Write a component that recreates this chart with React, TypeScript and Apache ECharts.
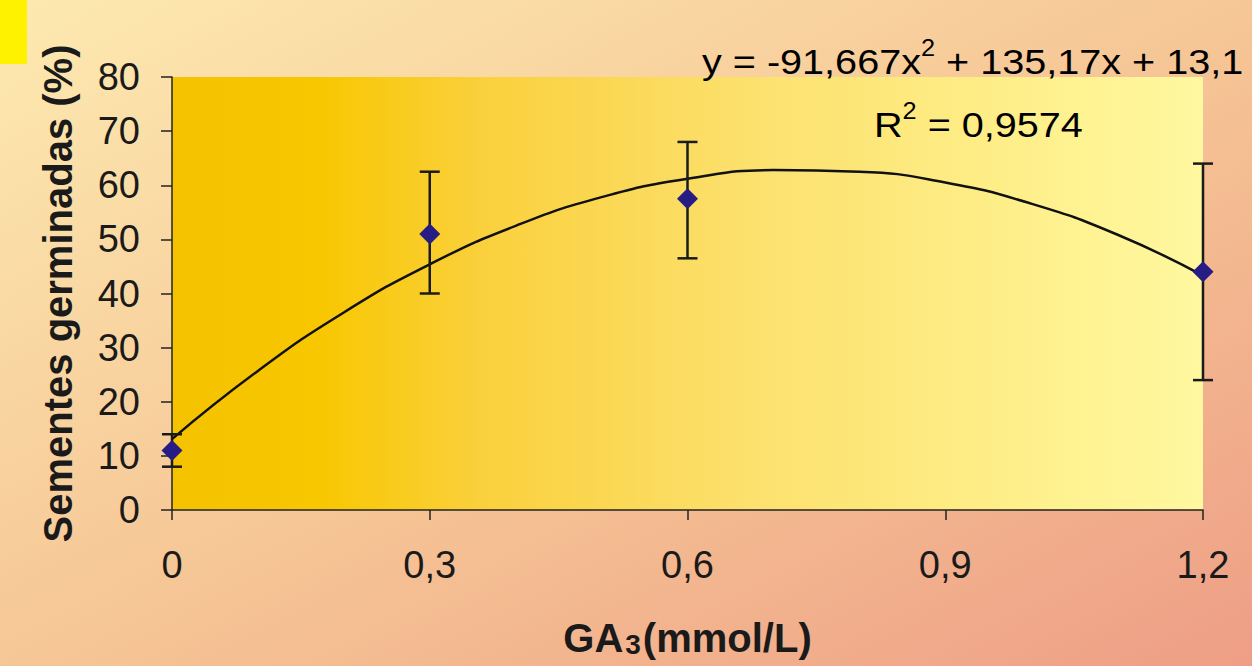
import React, { useEffect, useRef } from "react";
import * as echarts from "echarts";

// ---- data ----
const doses = [0, 0.3, 0.6, 1.2];
const germMean = [11, 51, 57.5, 44];
const germLow = [8, 40, 46.5, 24];
const germHigh = [14, 62.5, 68, 64];

// trendline as drawn in the picture
const curveX = [0, 0.1, 0.2, 0.3, 0.4, 0.5, 0.6, 0.7, 0.8, 0.9, 1.0, 1.1, 1.2];
const curveY = [13.1, 25.7, 36.5, 45.4, 52.5, 57.8, 61.2, 62.8, 62.5, 60.5, 56.6, 50.9, 43.3];

const equationText = "{a|y = -91,667x}{s|2}{a| + 135,17x + 13,1}";
const r2Text = "{a|R}{s|2}{a| = 0,9574}";
const yAxisName = "Sementes germinadas (%)";
const xAxisName = "{b|GA}{sub|3}{b|(mmol/L)}";

const FONT = "'Liberation Sans', Arial, sans-serif";

export default function App() {
  const ref = useRef<HTMLDivElement>(null);

  useEffect(() => {
    if (!ref.current) return;
    const chart = echarts.init(ref.current, null, { renderer: "svg" });

    const points = doses.map((d, i) => [d, germMean[i]]);
    const bars = doses.map((d, i) => [d, germLow[i], germHigh[i]]);
    const curve = curveX.map((x, i) => [x, curveY[i]]);

    const eqRich = {
      a: { fontFamily: FONT, fontSize: 36, color: "#1a1a1a", lineHeight: 44, verticalAlign: "bottom" },
      s: { fontFamily: FONT, fontSize: 23, color: "#1a1a1a", lineHeight: 44, verticalAlign: "top" },
    };

    chart.setOption({
      animation: false,
      backgroundColor: {
        type: "linear",
        x: 0,
        y: 0,
        x2: 1,
        y2: 1,
        colorStops: [
          { offset: 0, color: "#FDEAB0" },
          { offset: 0.5, color: "#F6C796" },
          { offset: 1, color: "#EE9E86" },
        ],
      },
      grid: {
        left: 172,
        top: 77,
        width: 1031,
        height: 433,
        show: true,
        borderWidth: 0,
        outerBoundsMode: "none",
        containLabel: false,
        backgroundColor: {
          type: "linear",
          x: 0,
          y: 0,
          x2: 1,
          y2: 0,
          colorStops: [
            { offset: 0, color: "#F5C200" },
            { offset: 0.14, color: "#F8C700" },
            { offset: 0.3, color: "#FAD03C" },
            { offset: 0.55, color: "#FCE06C" },
            { offset: 0.8, color: "#FEEE88" },
            { offset: 1, color: "#FFF8A0" },
          ],
        },
      },
      xAxis: {
        type: "value",
        min: 0,
        max: 1.2,
        interval: 0.3,
        name: xAxisName,
        nameLocation: "middle",
        nameGap: 110,
        nameTextStyle: {
          fontFamily: FONT,
          fontSize: 40,
          fontWeight: "bold",
          color: "#1a1a1a",
          lineHeight: 38,
          rich: {
            b: { fontFamily: FONT, fontSize: 40, fontWeight: "bold", color: "#1a1a1a", lineHeight: 38, verticalAlign: "bottom" },
            sub: { fontFamily: FONT, fontSize: 28, fontWeight: "bold", color: "#1a1a1a", lineHeight: 38, verticalAlign: "bottom", padding: [0, 2, 0, 2] },
          },
        },
        axisLine: { show: true, lineStyle: { color: "#222", width: 1.5 } },
        axisTick: { show: true, inside: false, length: 10, lineStyle: { color: "#222", width: 1.5 } },
        axisLabel: {
          margin: 36,
          fontFamily: FONT,
          fontSize: 38,
          color: "#1a1a1a",
          formatter: (v: number) => String(Math.round(v * 10) / 10).replace(".", ","),
        },
        splitLine: { show: false },
      },
      yAxis: {
        type: "value",
        min: 0,
        max: 80,
        interval: 10,
        name: yAxisName,
        nameLocation: "middle",
        nameGap: 94,
        nameRotate: 90,
        nameTextStyle: { fontFamily: FONT, fontSize: 40, fontWeight: "bold", color: "#1a1a1a" },
        axisLine: { show: true, lineStyle: { color: "#222", width: 1.5 } },
        axisTick: { show: true, inside: false, length: 11, lineStyle: { color: "#222", width: 1.5 } },
        axisLabel: { margin: 32, fontFamily: FONT, fontSize: 38, color: "#1a1a1a" },
        splitLine: { show: false },
      },
      graphic: [
        {
          type: "rect",
          shape: { x: 0, y: 0, width: 27, height: 64 },
          style: { fill: "#FFF200" },
          z: 10,
        },
        {
          type: "text",
          x: 702,
          y: 80,
          scaleX: 1.1,
          style: {
            text: equationText,
            rich: eqRich,
            align: "left",
            verticalAlign: "bottom",
          },
          z: 10,
        },
        {
          type: "text",
          x: 874,
          y: 143,
          scaleX: 1.1,
          style: {
            text: r2Text,
            rich: eqRich,
            align: "left",
            verticalAlign: "bottom",
          },
          z: 10,
        },
      ],
      series: [
        {
          type: "line",
          data: curve,
          smooth: true,
          showSymbol: false,
          symbol: "none",
          lineStyle: { color: "#111", width: 2.5 },
          z: 2,
        },
        {
          type: "custom",
          data: bars,
          z: 3,
          renderItem: (params: any, api: any) => {
            const x = api.value(0);
            const lo = api.coord([x, api.value(1)]);
            const hi = api.coord([x, api.value(2)]);
            const hw = 10;
            const st = { stroke: "#1a1a1a", lineWidth: 2.5 };
            return {
              type: "group",
              children: [
                { type: "line", shape: { x1: lo[0], y1: lo[1], x2: hi[0], y2: hi[1] }, style: st },
                { type: "line", shape: { x1: lo[0] - hw, y1: lo[1], x2: lo[0] + hw, y2: lo[1] }, style: st },
                { type: "line", shape: { x1: hi[0] - hw, y1: hi[1], x2: hi[0] + hw, y2: hi[1] }, style: st },
              ],
            };
          },
        },
        {
          type: "scatter",
          data: points,
          symbol: "diamond",
          symbolSize: 21,
          itemStyle: { color: "#261C84", opacity: 1 },
          z: 4,
        },
      ],
    });

    return () => chart.dispose();
  }, []);

  return (
    <div
      ref={ref}
      style={{ position: "fixed", left: 0, top: 0, width: 1252, height: 666 }}
    />
  );
}
